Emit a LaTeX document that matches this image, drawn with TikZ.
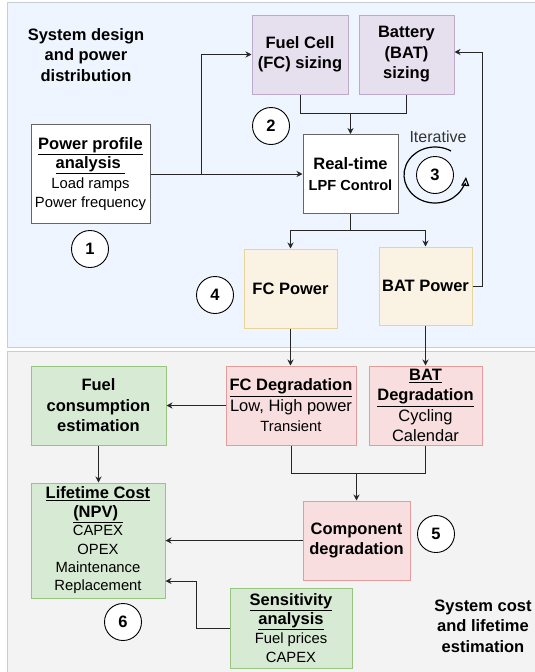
\documentclass[tikz,border=0pt]{standalone}
\usepackage{fontspec}
\setmainfont{Liberation Sans}
\usetikzlibrary{arrows.meta, positioning, calc}

\definecolor{topbg}{HTML}{EEF5FE}
\definecolor{topline}{HTML}{C8CED6}
\definecolor{botbg}{HTML}{F3F3F3}
\definecolor{botline}{HTML}{CCCCCC}
\definecolor{sizefill}{HTML}{E6E0EE}
\definecolor{sizeline}{HTML}{BBAACC}
\definecolor{powfill}{HTML}{FAF3E3}
\definecolor{powline}{HTML}{E5D59B}
\definecolor{degfill}{HTML}{F8DEDE}
\definecolor{degline}{HTML}{E39C9C}
\definecolor{costfill}{HTML}{D7EAD3}
\definecolor{costline}{HTML}{97C47F}

\newcommand{\headfont}{\fontsize{16.5}{20.5}\selectfont\bfseries}
\newcommand{\itemfont}{\fontsize{14.8}{18}\selectfont\mdseries}
\newcommand{\itembig}{\fontsize{16.5}{20.5}\selectfont\mdseries}
\newcommand{\lineskipof}[1]{\fontsize{16.5}{#1}\selectfont}

\begin{document}
\begin{tikzpicture}[x=1pt, y=-1pt, >={Stealth[length=6pt,width=6pt]}, line width=0.9pt,
    panel/.style={line width=1pt},
    box/.style={draw, align=center, inner sep=0pt, line width=1pt},
    whitebox/.style={box, fill=white, draw=black!60},
    sizebox/.style={box, fill=sizefill, draw=sizeline},
    powbox/.style={box, fill=powfill, draw=powline},
    degbox/.style={box, fill=degfill, draw=degline},
    costbox/.style={box, fill=costfill, draw=costline},
    stepno/.style={circle, draw, fill=white, minimum size=37, inner sep=0pt, line width=0.9pt, font=\headfont},
    link/.style={->, draw=black!85}]
    \useasboundingbox (0,0) rectangle (535,672);

    \draw[panel, fill=topbg, draw=topline] (7,2) rectangle (545,347);
    \draw[panel, fill=botbg, draw=botline] (7,351) rectangle (545,680);

    \node[align=center, font=\headfont] (title1) at (86,55) {System design\\and power\\distribution};
    \node[align=center, font=\headfont] (title2) at (483,626) {System cost\\and lifetime\\estimation};

    \node[whitebox, minimum width=119, minimum height=99, font=\lineskipof{19.5}] (profile) at (90.5,174)
        {\headfont\underline{Power profile}\\\headfont\underline{analysis\ }\\\itemfont Load ramps\\\itemfont Power frequency};
    \node[sizebox, minimum width=96, minimum height=79, font=\headfont] (fcsize) at (300,54.5)
        {Fuel Cell\\(FC) sizing};
    \node[sizebox, minimum width=95, minimum height=79, font=\headfont] (batsize) at (406.5,54.5)
        {Battery\\(BAT)\\sizing};
    \node[whitebox, minimum width=95, minimum height=79, font=\lineskipof{21}] (lpf) at (350.5,174)
        {\headfont Real-time\\\fontsize{14.6}{19}\selectfont\bfseries LPF Control};
    \node[powbox, minimum width=93, minimum height=79, font=\headfont] (fcpow) at (290.5,288.5) {FC Power};
    \node[powbox, minimum width=93, minimum height=78, font=\headfont] (batpow) at (425.5,286) {BAT Power};

    \node[costbox, minimum width=135, minimum height=79, font=\headfont] (fuel) at (98.5,405.5)
        {Fuel\\consumption\\estimation};
    \node[degbox, minimum width=130, minimum height=79, font=\lineskipof{20.5}] (fcdeg) at (291,405.5)
        {\headfont\underline{FC Degradation}\\\itembig Low, High power\\\itemfont Transient};
    \node[degbox, minimum width=113, minimum height=79, font=\lineskipof{20.3}] (batdeg) at (425.5,405.5)
        {\headfont\underline{BAT}\\\headfont\underline{Degradation}\\\itembig Cycling\\\itembig Calendar};
    \node[degbox, minimum width=107, minimum height=79, font=\headfont] (compdeg) at (356.5,540.5)
        {Component\\degradation};
    \node[costbox, minimum width=134, minimum height=115, font=\lineskipof{18.4}] (npv) at (98,540.5)
        {\headfont\underline{Lifetime Cost}\\\headfont\underline{(NPV)\ }\\\itemfont CAPEX\\\itemfont OPEX\\\itemfont Maintenance\\\itemfont Replacement};
    \node[costbox, minimum width=122, minimum height=80, font=\lineskipof{19}] (sens) at (291,628)
        {\headfont\underline{Sensitivity}\\\headfont\underline{analysis}\\\itemfont Fuel prices\\\itemfont CAPEX};

    \node[stepno] (c1) at (90,249) {1};
    \node[stepno] (c2) at (271,126) {2};
    \node[stepno] (c3) at (435,175) {3};
    \node[stepno] (c4) at (215,295) {4};
    \node[stepno] (c5) at (436,534) {5};
    \node[stepno] (c6) at (123,622) {6};

    \node[font=\fontsize{16}{19}\selectfont, text=black!80] (iter) at (438,137) {Iterative};
    \draw[-{Triangle[open,length=9pt,width=8pt]}, line width=1.2pt] ($(c3)+(16,-24)$)
        arc[start angle=59, end angle=356, x radius=31pt, y radius=28pt];

    \coordinate (split) at (201,174);
    \draw[link] (profile) -- (lpf);
    \draw[link] (split) |- (fcsize.west);
    \draw[draw=black!85] (fcsize.south) -- ++(0,19) -| (batsize.south);
    \draw[link] (lpf.north |- 0,113) -- (lpf.north);
    \draw[link] (lpf.south) -- ++(0,16.5) -| (fcpow.north);
    \draw[link] (lpf.south) -- ++(0,16.5) -| (batpow.north);
    \draw[link] (batpow.east) -- ++(10,0) |- (batsize.east |- 0,52);
    \draw[link] (fcpow.south) -- (fcpow.south |- fcdeg.north);
    \draw[link] (batpow.south) -- (batdeg.north);
    \draw[link] (fcdeg.west) -- (fuel.east);
    \draw[draw=black!85] (fcdeg.south) -- ++(0,28) -| (batdeg.south);
    \draw[link] (compdeg.north |- 0,473) -- (compdeg.north);
    \draw[link] (fuel.south) -- (fuel.south |- npv.north);
    \draw[link] (compdeg.west) -- (npv.east);
    \draw[link] (sens.west) -- ++(-33,0) |- (npv.east |- 0,581);
\end{tikzpicture}
\end{document}
